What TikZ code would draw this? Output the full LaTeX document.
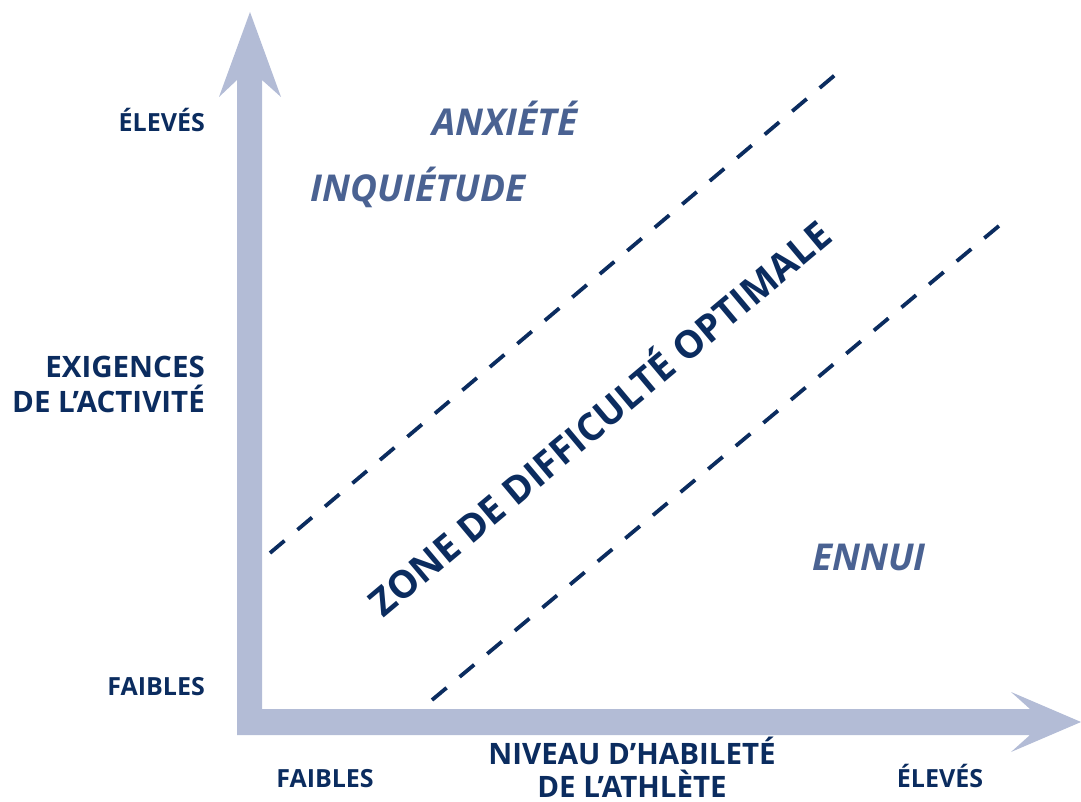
\documentclass[tikz,border=0pt]{standalone}
\usepackage{fontspec}
\setmainfont{Open Sans}
\usepackage{xcolor}
\usetikzlibrary{positioning}

\definecolor{axisblue}{HTML}{B3BCD6}
\definecolor{navy}{HTML}{0B2C5F}
\definecolor{slate}{HTML}{4A6292}

\begin{document}
\begin{tikzpicture}[x=1pt, y=-1pt,
    lbl/.style={text=navy, font=\bfseries\fontsize{25}{33}\selectfont, align=center, inner sep=0pt},
    title/.style={lbl, font=\bfseries\fontsize{29.5}{33}\selectfont},
    state/.style={text=slate, font=\bfseries\itshape\fontsize{37}{40}\selectfont, inner sep=0pt},
    border/.style={navy, line width=3.8pt, dash pattern=on 19pt off 17pt}]
    \useasboundingbox (0,0) rectangle (1081,802);

    % both axes as one filled outline
    \fill[axisblue] (237,735) -- (237,80) -- (219,97) -- (250,12) -- (281,97) -- (262,80)
        -- (262,709) -- (1030,709) -- (1011,692) -- (1081,722) -- (1011,752) -- (1030,735) -- cycle;

    % axis labels
    \node[lbl, anchor=base east] (yhigh) at (205,132) {ÉLEVÉS};
    \node[title, anchor=south east, align=right, font=\bfseries\fontsize{29.5}{35}\selectfont] (ytitle) at (205,413) {EXIGENCES\\DE L’ACTIVITÉ};
    \node[lbl, anchor=base east] (ylow) at (205,695) {FAIBLES};
    \node[lbl, anchor=base] (xlow) at (325,787) {FAIBLES};
    \node[title, anchor=south] (xtitle) at (632,798) {NIVEAU D’HABILETÉ\\DE L’ATHLÈTE};
    \node[lbl, anchor=base] (xhigh) at (940,787) {ÉLEVÉS};

    % band limits
    \coordinate (lo1) at (270,553);
    \coordinate (hi1) at (835,75);
    \coordinate (lo2) at (432,700);
    \coordinate (hi2) at (1000,225);
    \draw[border] (lo1) -- (hi1);
    \draw[border] (lo2) -- (hi2);

    \node[rotate=40, text=navy, font=\bfseries\fontsize{38}{40}\selectfont] (optimal) at (598,416) {ZONE DE DIFFICULTÉ OPTIMALE};

    \node[state] (anxiety) at (505,118) {ANXIÉTÉ};
    \node[state] (worry) at (418,187) {INQUIÉTUDE};
    \node[state] (boredom) at (869,557) {ENNUI};
\end{tikzpicture}
\end{document}
